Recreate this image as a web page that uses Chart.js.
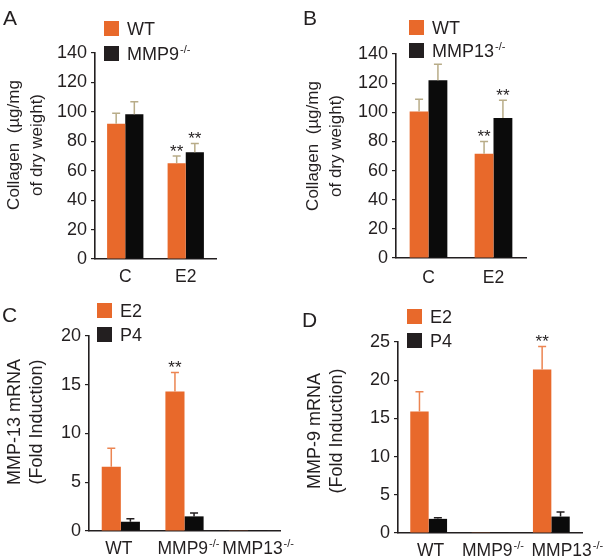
<!DOCTYPE html>
<html>
<head>
<meta charset="utf-8">
<script src="https://cdn.jsdelivr.net/npm/chart.js@4.4.1/dist/chart.umd.min.js"></script>
<style>
  body { margin: 0; background: #fff; }
  #wrap { position: relative; width: 607px; height: 560px; overflow: hidden; }
  canvas { position: absolute; }
</style>
</head>
<body>
<div id="wrap">
  <canvas id="chartA" width="300" height="292" style="left:0;top:0;width:300px;height:292px"></canvas>
  <canvas id="chartB" width="307" height="292" style="left:300px;top:0;width:307px;height:292px"></canvas>
  <canvas id="chartC" width="300" height="280" style="left:0;top:280px;width:300px;height:280px"></canvas>
  <canvas id="chartD" width="307" height="280" style="left:300px;top:280px;width:307px;height:280px"></canvas>
</div>
<script>
const FONT = '"Liberation Sans", Arial, Helvetica, sans-serif';
const INK = '#231f20';
const ORANGE = '#e8692b';
const BLACK = '#0b0b0b';
const TAN = '#b8ac88';

// A, B: collagen content (µg/mg dry weight)
const collagenCats = ['C', 'E2'];
const collagenTicks = { max: 140, step: 20 };

const wtA = [92, 65];
const wtAErr = [7, 5];
const wtAStars = ['', '**'];
const mmp9KoA = [98.4, 72.5];
const mmp9KoAErr = [8.5, 6];
const mmp9KoAStars = ['', '**'];

const wtB = [100.5, 71.5];
const wtBErr = [8.5, 8.5];
const wtBStars = ['', '**'];
const mmp13KoB = [122, 96];
const mmp13KoBErr = [11, 12.3];
const mmp13KoBStars = ['', '**'];

// C, D: fold induction of mRNA
const genotypes = ['WT', 'MMP9-/-', 'MMP13-/-'];

const mmp13E2 = [6.6, 14.3, 0.08];
const mmp13E2Err = [1.9, 1.95, 0];
const mmp13E2Stars = ['', '**', ''];
const mmp13P4 = [0.95, 1.5, 0.08];
const mmp13P4Err = [0.3, 0.35, 0];
const mmp13Ticks = { max: 20, step: 5 };

const mmp9E2 = [15.9, 0.1, 21.4];
const mmp9E2Err = [2.6, 0, 3.0];
const mmp9E2Stars = ['', '', '**'];
const mmp9P4 = [1.85, 0.1, 2.15];
const mmp9P4Err = [0.15, 0, 0.6];
const mmp9Ticks = { max: 25, step: 5 };

// text with optional "-/-" superscript
function drawRich(ctx, label, x, y, size, align) {
  const m = label.match(/^(.*?)(-\/-)?$/);
  const base = m[1], sup = m[2] || '';
  const supSize = Math.round(size * 0.6);
  ctx.font = size + 'px ' + FONT;
  const wb = ctx.measureText(base).width;
  ctx.font = supSize + 'px ' + FONT;
  const ws = sup ? ctx.measureText(sup).width + 1 : 0;
  const x0 = align === 'center' ? x - (wb + ws) / 2 : x;
  ctx.textAlign = 'left';
  ctx.textBaseline = 'alphabetic';
  ctx.font = size + 'px ' + FONT;
  ctx.fillText(base, x0, y);
  if (sup) {
    ctx.font = supSize + 'px ' + FONT;
    ctx.fillText(sup, x0 + wb + 1, y - size * 0.38);
  }
}

function makePanel(id, p) {
  const canvas = document.getElementById(id);
  const W = canvas.width, H = canvas.height;
  const a = p.area;

  const decor = {
    id: 'decor',
    afterDatasetsDraw(chart) {
      const ctx = chart.ctx;
      const y = chart.scales.y, x = chart.scales.x;
      ctx.save();

      // error bars + significance stars
      p.series.forEach((s, i) => {
        const meta = chart.getDatasetMeta(i);
        meta.data.forEach((bar, j) => {
          const err = s.err[j];
          let top = bar.y;
          if (err > 0) {
            top = y.getPixelForValue(s.data[j] + err);
            ctx.strokeStyle = s.errColor;
            ctx.lineWidth = 1.5;
            ctx.beginPath();
            ctx.moveTo(bar.x, bar.y);
            ctx.lineTo(bar.x, top);
            ctx.moveTo(bar.x - 4, top);
            ctx.lineTo(bar.x + 4, top);
            ctx.stroke();
          }
          if (s.stars && s.stars[j]) {
            ctx.fillStyle = INK;
            ctx.font = '17px ' + FONT;
            ctx.textAlign = 'center';
            ctx.textBaseline = 'alphabetic';
            ctx.fillText(s.stars[j], bar.x, top + 0.5);
          }
        });
      });

      // category labels
      ctx.fillStyle = INK;
      p.labels.forEach((lab, j) => {
        const shift = p.labelShift ? p.labelShift[j] : 0;
        drawRich(ctx, lab, x.getPixelForValue(j) + shift, a.bottom + p.labelGap, 17.5, 'center');
      });

      // legend
      p.series.forEach((s, i) => {
        const ly = p.legend.ys[i];
        ctx.fillStyle = s.legendColor || s.color;
        ctx.fillRect(p.legend.x, ly, 15, 15);
        ctx.fillStyle = INK;
        drawRich(ctx, s.label, p.legend.x + 23, ly + 14, 18, 'left');
      });

      // y title
      ctx.fillStyle = INK;
      ctx.font = p.titleSize + 'px ' + FONT;
      ctx.textAlign = 'center';
      ctx.textBaseline = 'middle';
      p.title.forEach((line, k) => {
        ctx.save();
        ctx.translate(p.titleX[k], p.titleY);
        ctx.rotate(-Math.PI / 2);
        ctx.fillText(line, 0, 0);
        ctx.restore();
      });

      // panel letter
      ctx.font = '21px ' + FONT;
      ctx.textAlign = 'left';
      ctx.textBaseline = 'alphabetic';
      ctx.fillText(p.letter, p.letterPos[0], p.letterPos[1]);

      ctx.restore();
    }
  };

  return new Chart(canvas, {
    type: 'bar',
    data: {
      labels: p.labels,
      datasets: p.series.map(s => ({
        label: s.label,
        data: s.data,
        backgroundColor: s.color,
        borderWidth: 0,
        barPercentage: 1,
        categoryPercentage: p.catPct
      }))
    },
    options: {
      responsive: false,
      animation: false,
      events: [],
      layout: { padding: { left: 0, top: a.top, right: W - a.right, bottom: 0 } },
      plugins: { legend: { display: false }, tooltip: { enabled: false } },
      scales: {
        x: {
          type: 'category',
          offset: true,
          grid: { display: false },
          border: { display: true, color: INK, width: 1.6 },
          ticks: { display: false },
          afterFit(s) { s.height = H - a.bottom; s.paddingLeft = 0; s.paddingRight = 0; }
        },
        y: {
          min: 0,
          max: p.ticks.max,
          ticks: { stepSize: p.ticks.step, color: INK, padding: 4, font: { family: FONT, size: 18 } },
          grid: { drawOnChartArea: false, drawTicks: true, tickLength: 4, color: INK, lineWidth: 1.2 },
          border: { display: true, color: INK, width: 1.6 },
          afterFit(s) { s.width = a.left; s.paddingTop = 0; s.paddingBottom = 0; }
        }
      }
    },
    plugins: [decor]
  });
}

makePanel('chartA', {
  area: { left: 95, right: 216, top: 53, bottom: 259 },
  ticks: collagenTicks,
  labels: collagenCats,
  catPct: 0.6,
  labelGap: 23,
  series: [
    { label: 'WT', data: wtA, err: wtAErr, stars: wtAStars, color: ORANGE, errColor: TAN },
    { label: 'MMP9-/-', data: mmp9KoA, err: mmp9KoAErr, stars: mmp9KoAStars, color: BLACK, legendColor: INK, errColor: TAN }
  ],
  legend: { x: 104, ys: [21, 46] },
  title: ['Collagen  (\u00b5g/mg', 'of dry weight)'],
  titleSize: 17,
  titleX: [14, 37],
  titleY: 145,
  letter: 'A',
  letterPos: [3, 25]
});

makePanel('chartB', {
  area: { left: 96, right: 226, top: 54, bottom: 258 },
  ticks: collagenTicks,
  labels: collagenCats,
  catPct: 0.58,
  labelGap: 25,
  series: [
    { label: 'WT', data: wtB, err: wtBErr, stars: wtBStars, color: ORANGE, errColor: TAN },
    { label: 'MMP13-/-', data: mmp13KoB, err: mmp13KoBErr, stars: mmp13KoBStars, color: BLACK, legendColor: INK, errColor: TAN }
  ],
  legend: { x: 109, ys: [20, 43] },
  title: ['Collagen  (\u00b5g/mg', 'of dry weight)'],
  titleSize: 17,
  titleX: [13, 36],
  titleY: 146,
  letter: 'B',
  letterPos: [3, 25]
});

makePanel('chartC', {
  area: { left: 89, right: 280, top: 56, bottom: 251 },
  ticks: mmp13Ticks,
  labels: genotypes,
  catPct: 0.6,
  labelGap: 23,
  labelShift: [-2, 4, 10],
  series: [
    { label: 'E2', data: mmp13E2, err: mmp13E2Err, stars: mmp13E2Stars, color: ORANGE, errColor: '#ec8552' },
    { label: 'P4', data: mmp13P4, err: mmp13P4Err, color: BLACK, legendColor: INK, errColor: INK }
  ],
  legend: { x: 97, ys: [23, 47] },
  title: ['MMP-13 mRNA', '(Fold Induction)'],
  titleSize: 18,
  titleX: [15, 37],
  titleY: 142,
  letter: 'C',
  letterPos: [2, 42]
});

makePanel('chartD', {
  area: { left: 98, right: 282, top: 62, bottom: 253 },
  ticks: mmp9Ticks,
  labels: genotypes,
  catPct: 0.6,
  labelGap: 23,
  labelShift: [2, 3, 16],
  series: [
    { label: 'E2', data: mmp9E2, err: mmp9E2Err, stars: mmp9E2Stars, color: ORANGE, errColor: '#ec8552' },
    { label: 'P4', data: mmp9P4, err: mmp9P4Err, color: BLACK, legendColor: INK, errColor: INK }
  ],
  legend: { x: 107, ys: [29, 53] },
  title: ['MMP-9 mRNA', '(Fold Induction)'],
  titleSize: 18,
  titleX: [15, 37],
  titleY: 151,
  letter: 'D',
  letterPos: [2, 47]
});
</script>
</body>
</html>
